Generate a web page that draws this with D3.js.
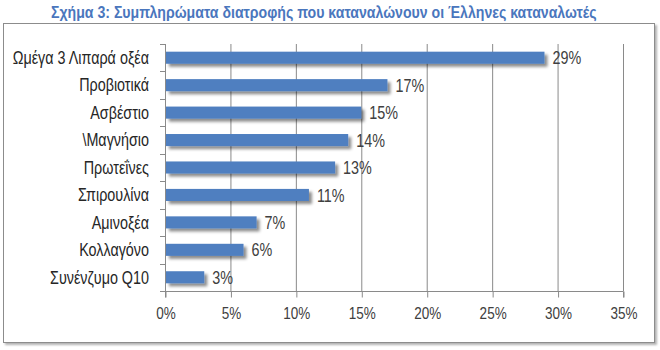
<!DOCTYPE html>
<html>
<head>
<meta charset="utf-8">
<script src="https://cdn.jsdelivr.net/npm/d3@7"></script>
<style>
  html, body { margin: 0; padding: 0; background: #fff; }
  svg { display: block; }
  text { font-family: "Liberation Sans", Arial, sans-serif; }
</style>
</head>
<body>
<svg id="chart" width="660" height="350"></svg>
<script>
const categories = [
  "Ωμέγα 3 Λιπαρά οξέα",
  "Προβιοτικά",
  "Ασβέστιο",
  "\\Μαγνήσιο",
  "Πρωτεΐνες",
  "Σπιρουλίνα",
  "Αμινοξέα",
  "Κολλαγόνο",
  "Συνένζυμο Q10"
];
const values = [29, 17, 15, 14, 13, 11, 7, 6, 3];
const xTicks = [0, 5, 10, 15, 20, 25, 30, 35];
const title = "Σχήμα 3: Συμπληρώματα διατροφής που καταναλώνουν οι Έλληνες καταναλωτές";

// horizontal squeeze that gives the narrow typeface look
const NARROW = 0.82;

const svg = d3.select("#chart");
const defs = svg.append("defs");

const shadow = defs.append("filter").attr("id", "barShadow")
  .attr("x", "-10%").attr("y", "-50%").attr("width", "130%").attr("height", "250%");
shadow.append("feDropShadow")
  .attr("dx", 3).attr("dy", 3).attr("stdDeviation", 1.6)
  .attr("flood-color", "#000").attr("flood-opacity", 0.45);

const boxShadow = defs.append("filter").attr("id", "boxShadow")
  .attr("x", "-5%").attr("y", "-5%").attr("width", "110%").attr("height", "110%");
boxShadow.append("feDropShadow")
  .attr("dx", 2).attr("dy", 2).attr("stdDeviation", 1.2)
  .attr("flood-color", "#000").attr("flood-opacity", 0.3);

// Title, squeezed horizontally to span the frame's upper width
const titleText = svg.append("text")
  .attr("font-size", 16)
  .attr("font-weight", "bold")
  .attr("fill", "#4a76bd")
  .text(title);
const titleLen = titleText.node().getComputedTextLength();
titleText.attr("transform", `translate(51,18) scale(${546 / titleLen},1)`);

// Chart frame
svg.append("rect")
  .attr("x", 3.5).attr("y", 23.5)
  .attr("width", 651).attr("height", 319)
  .attr("fill", "#fff")
  .attr("stroke", "#8c8c8c")
  .attr("stroke-width", 1)
  .attr("filter", "url(#boxShadow)");

const margin = { left: 165, right: 623, top: 44, bottom: 291 };

const x = d3.scaleLinear().domain([0, 35]).range([margin.left, margin.right]);
const y = d3.scaleBand().domain(categories).range([margin.top, margin.bottom]).paddingInner(0.56).paddingOuter(0.28);

// Vertical gridlines
svg.append("g")
  .selectAll("line")
  .data(xTicks.slice(1))
  .join("line")
  .attr("x1", d => x(d) + 0.5).attr("x2", d => x(d) + 0.5)
  .attr("y1", margin.top).attr("y2", margin.bottom)
  .attr("stroke", "#8a8a8a").attr("stroke-width", 1);

// X axis
const xAxis = d3.axisBottom(x)
  .tickValues(xTicks)
  .tickFormat(d => d + "%")
  .tickSize(6)
  .tickPadding(10);
const gx = svg.append("g")
  .attr("transform", `translate(0.5,${margin.bottom + 0.5})`)
  .call(xAxis);
gx.select(".domain").attr("stroke", "#8a8a8a").attr("d", `M${margin.left},6V0H${margin.right}V6`);
gx.selectAll(".tick line").attr("stroke", "#8a8a8a");
gx.selectAll(".tick text")
  .attr("fill", "#404040")
  .attr("font-size", 16.5)
  .attr("font-family", "Liberation Sans, Arial, sans-serif")
  .attr("transform", `scale(${NARROW},1)`);

// Y axis (category ticks sit on band boundaries)
svg.append("line")
  .attr("x1", margin.left + 0.5).attr("x2", margin.left + 0.5)
  .attr("y1", margin.top).attr("y2", margin.bottom + 6)
  .attr("stroke", "#8a8a8a");
const step = (margin.bottom - margin.top) / categories.length;
svg.append("g")
  .selectAll("line")
  .data(d3.range(categories.length + 1))
  .join("line")
  .attr("x1", margin.left - 5).attr("x2", margin.left + 0.5)
  .attr("y1", i => Math.round(margin.top + i * step) + 0.5)
  .attr("y2", i => Math.round(margin.top + i * step) + 0.5)
  .attr("stroke", "#8a8a8a");

svg.append("g")
  .selectAll("text")
  .data(categories)
  .join("text")
  .attr("transform", d => `translate(149,${y(d) + y.bandwidth() / 2}) scale(${NARROW},1)`)
  .attr("dy", "0.36em")
  .attr("text-anchor", "end")
  .attr("font-size", 17.5)
  .attr("fill", "#262626")
  .text(d => d);

// Bars
svg.append("g")
  .selectAll("rect")
  .data(categories)
  .join("rect")
  .attr("x", x(0) + 1)
  .attr("y", d => y(d))
  .attr("width", (d, i) => x(values[i]) - x(0) - 1)
  .attr("height", y.bandwidth())
  .attr("fill", "#4f7fc0")
  .attr("filter", "url(#barShadow)");

// Value labels
svg.append("g")
  .selectAll("text")
  .data(categories)
  .join("text")
  .attr("transform", (d, i) => `translate(${x(values[i]) + 8},${y(d) + y.bandwidth() / 2}) scale(${NARROW},1)`)
  .attr("dy", "0.38em")
  .attr("font-size", 17.5)
  .attr("fill", "#404040")
  .text((d, i) => values[i] + "%");
</script>
</body>
</html>
